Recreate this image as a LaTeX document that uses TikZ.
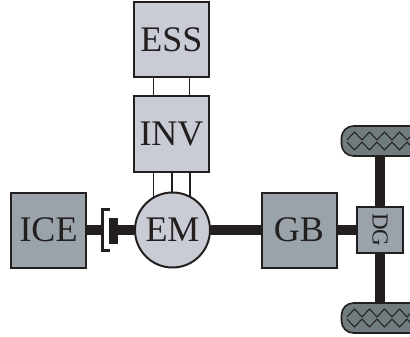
\documentclass[tikz,border=0pt]{standalone}
\usepackage{fontspec}
\setmainfont{Liberation Serif}
\definecolor{lightbox}{HTML}{C9CCD4}
\definecolor{darkbox}{HTML}{9AA2AA}
\definecolor{tyre}{HTML}{717C7E}
\definecolor{ink}{HTML}{231F20}
\tikzset{
  box/.style={draw=ink,line width=2pt,minimum width=75pt,minimum height=75pt,inner sep=0pt,text=ink,font=\fontsize{36}{36}\selectfont},
  light/.style={box,fill=lightbox},
  dark/.style={box,fill=darkbox},
  shaft/.style={draw=ink,line width=10pt},
  wire/.style={draw=ink,line width=1.7pt},
  tyrebox/.style={draw=ink,line width=1.6pt,fill=tyre,rounded corners=12pt},
  zig/.style={draw=ink,line width=1pt}
}
\begin{document}
\begin{tikzpicture}[x=1pt,y=-1pt]
\useasboundingbox[clip] (0,0) rectangle (410,337);
\node[light] (ess) at (171.5,40) {ESS};
\node[light] (inv) at (171.5,134) {INV};
\node[dark] (ice) at (48.5,230) {ICE};
\node[light,circle,minimum size=75pt] (em) at (172.5,230) {EM};
\node[dark] (gb) at (299,230) {GB};
\coordinate (clutchL) at (101,230);
\node[fill=ink,minimum width=9pt,minimum height=26pt,inner sep=0pt] (plate) at (113.5,230.5) {};
\draw[shaft] (ice.east) -- (clutchL);
\draw[shaft] (plate.east |- em.west) -- (em.west);
\draw[draw=ink,line width=3pt] (109.5,209.5) -- (102,209.5) -- (102,250) -- (109.5,250);
\draw[shaft] (em.east) -- (gb.west);
\coordinate (tyreT) at (380,141);
\coordinate (tyreB) at (380,318);
\draw[shaft] (tyreT) -- (tyreB);
\node[dark,minimum width=46pt,minimum height=46pt] (dg) at (380,230) {\rotatebox{-90}{\fontsize{23}{23}\selectfont DG}};
\draw[shaft] (gb.east) -- (dg.west);
\foreach \x in {153.5,189.5} \draw[wire] (ess.south -| \x,0) -- (inv.north -| \x,0);
\foreach \x/\y in {153.5/197,172/192,190/197} \draw[wire] (inv.south -| \x,0) -- (\x,\y);
\foreach \y/\n in {141/top,318/bot}{
  \draw[tyrebox] (341.5,\y-15) rectangle (430,\y+15);
  \draw[zig] (347,\y-1) -- ++(7.5,-8) -- ++(7.5,8) -- ++(7.5,-8) -- ++(7.5,8) -- ++(7.5,-8) -- ++(7.5,8) -- ++(7.5,-8) -- ++(7.5,8) -- ++(7.5,-8) -- ++(7.5,8);
  \draw[zig] (347,\y+1) -- ++(7.5,8) -- ++(7.5,-8) -- ++(7.5,8) -- ++(7.5,-8) -- ++(7.5,8) -- ++(7.5,-8) -- ++(7.5,8) -- ++(7.5,-8) -- ++(7.5,8) -- ++(7.5,-8);
}
\end{tikzpicture}
\end{document}
